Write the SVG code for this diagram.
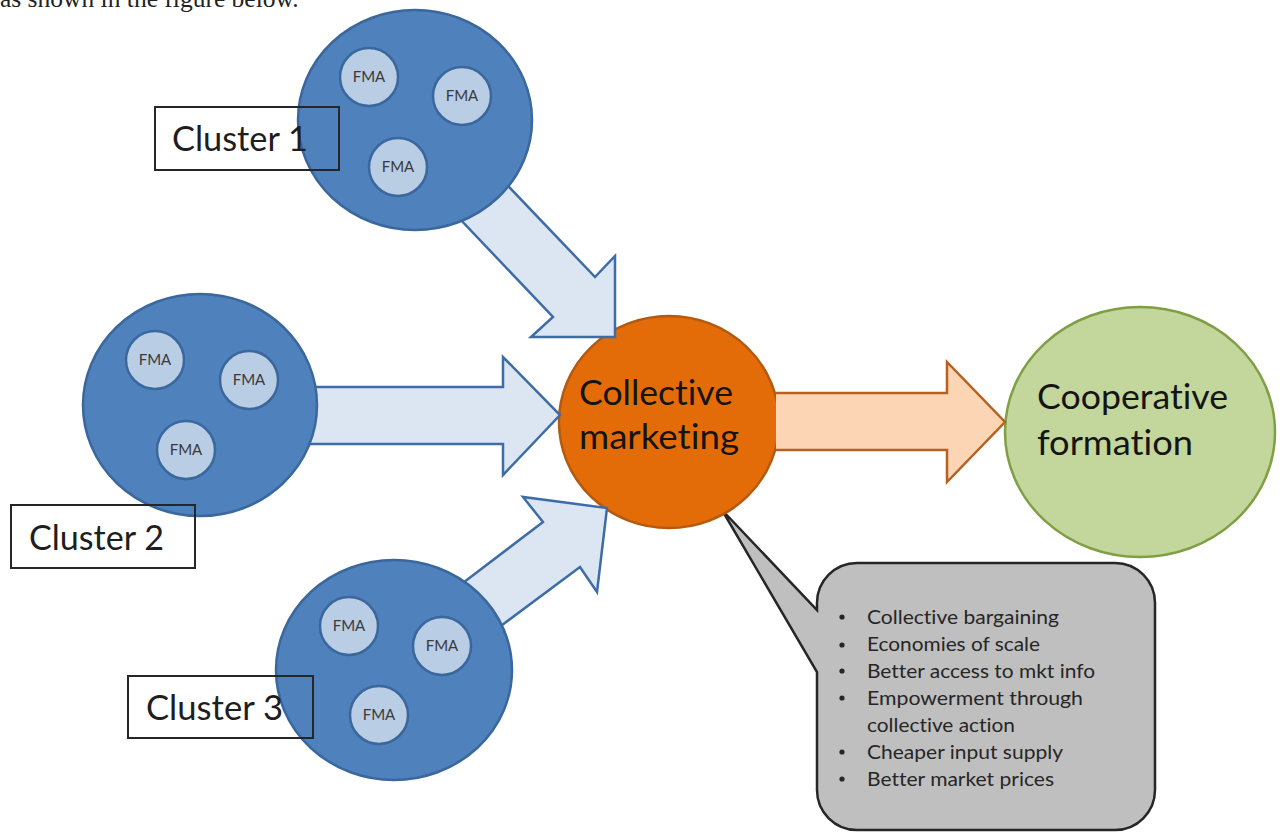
<svg xmlns="http://www.w3.org/2000/svg" width="1282" height="835" viewBox="0 0 1282 835">
<style>
text{font-variant-ligatures:none;font-feature-settings:"liga" 0,"dlig" 0}
.cl{fill:#4f81bd;stroke:#3a679c;stroke-width:2.5}
.fma{fill:#b9cde5;stroke:#3a679c;stroke-width:2.5}
.fmat{font-family:Lato,"Liberation Sans",sans-serif;font-size:15px;fill:#3a3a3a;text-anchor:middle}
.lbox{fill:none;stroke:#262626;stroke-width:2}
.lbl{font-family:Lato,"Liberation Sans",sans-serif;font-size:34px;fill:#1e1e1e}
.big{font-family:Lato,"Liberation Sans",sans-serif;font-size:35px;fill:#141414}
.arr{fill:#dce6f2;stroke:#3e6ca6;stroke-width:2.5;stroke-linejoin:miter}
.oarr{fill:#fcd5b5;stroke:#b8601f;stroke-width:2.5;stroke-linejoin:miter}
.li{font-family:Lato,"Liberation Sans",sans-serif;font-size:20px;fill:#262626}
.bul{fill:#262626}
</style>
<text x="0" y="7" font-family="'Liberation Serif',serif" font-size="25.5" fill="#222">as shown in the figure below.</text>

<g id="callout">
<path d="M857,563 H1115 A40,40 0 0 1 1155,603 V790 A40,40 0 0 1 1115,830 H857 A40,40 0 0 1 817,790 V672 L722,510 L817,610 V603 A40,40 0 0 1 857,563 Z" fill="#bfbfbf" stroke="#262626" stroke-width="2.5" stroke-linejoin="miter"/>
<circle class="bul" cx="842" cy="617" r="2.6"/>
<circle class="bul" cx="842" cy="645" r="2.6"/>
<circle class="bul" cx="842" cy="671" r="2.6"/>
<circle class="bul" cx="842" cy="698" r="2.6"/>
<circle class="bul" cx="842" cy="752" r="2.6"/>
<circle class="bul" cx="842" cy="779" r="2.6"/>
<text class="li" x="867" y="624" textLength="192" lengthAdjust="spacingAndGlyphs">Collective bargaining</text>
<text class="li" x="867" y="651" textLength="173" lengthAdjust="spacingAndGlyphs">Economies of scale</text>
<text class="li" x="867" y="678" textLength="228" lengthAdjust="spacingAndGlyphs">Better access to mkt info</text>
<text class="li" x="867" y="705" textLength="216" lengthAdjust="spacingAndGlyphs">Empowerment through</text>
<text class="li" x="867" y="732" textLength="148" lengthAdjust="spacingAndGlyphs">collective action</text>
<text class="li" x="867" y="759" textLength="196" lengthAdjust="spacingAndGlyphs">Cheaper input supply</text>
<text class="li" x="867" y="786" textLength="187" lengthAdjust="spacingAndGlyphs">Better market prices</text>
</g>

<g id="collective-marketing">
<ellipse cx="669" cy="422" rx="110" ry="106" fill="#e36c09" stroke="#b35a10" stroke-width="2.5"/>
<text class="big" x="579" y="405" textLength="154" lengthAdjust="spacingAndGlyphs">Collective</text>
<text class="big" x="579" y="449" textLength="160" lengthAdjust="spacingAndGlyphs">marketing</text>
</g>

<g id="cooperative-formation">
<ellipse cx="1140" cy="432" rx="135" ry="125" fill="#c3d69b" stroke="#7f9f45" stroke-width="2.5"/>
<text class="big" x="1037" y="409" textLength="191" lengthAdjust="spacingAndGlyphs">Cooperative</text>
<text class="big" x="1037" y="455" textLength="156" lengthAdjust="spacingAndGlyphs">formation</text>
</g>

<g id="connectors">
<path class="oarr" d="M776,393 H947 V362 L1005,422 L947,482 V450 H776"/>
<polygon class="arr" points="440,198 553,317 531,337 615,337 615,256 595,277 490,167"/>
<polygon class="arr" points="300,387 503,387 503,357 560,415 503,475 503,444 300,444"/>
<polygon class="arr" points="451,592 543,522 523,497 607,508 597,592 580,567 486,637"/>
</g>

<g id="cluster1">
<ellipse class="cl" cx="415" cy="120" rx="117" ry="110"/>
<circle class="fma" cx="369" cy="77" r="29"/>
<text class="fmat" x="369" y="82">FMA</text>
<circle class="fma" cx="462" cy="96" r="29"/>
<text class="fmat" x="462" y="101">FMA</text>
<circle class="fma" cx="398" cy="167" r="29"/>
<text class="fmat" x="398" y="172">FMA</text>
<rect class="lbox" x="155" y="107" width="184" height="63"/>
<text class="lbl" x="172" y="151" textLength="136" lengthAdjust="spacingAndGlyphs">Cluster 1</text>
</g>

<g id="cluster2">
<ellipse class="cl" cx="200" cy="405" rx="117" ry="111"/>
<circle class="fma" cx="155" cy="360" r="29"/>
<text class="fmat" x="155" y="365">FMA</text>
<circle class="fma" cx="249" cy="380" r="29"/>
<text class="fmat" x="249" y="385">FMA</text>
<circle class="fma" cx="186" cy="450" r="29"/>
<text class="fmat" x="186" y="455">FMA</text>
<rect class="lbox" x="11" y="505" width="184" height="63"/>
<text class="lbl" x="29" y="550" textLength="135" lengthAdjust="spacingAndGlyphs">Cluster 2</text>
</g>

<g id="cluster3">
<ellipse class="cl" cx="394" cy="670" rx="118" ry="110"/>
<circle class="fma" cx="349" cy="626" r="29"/>
<text class="fmat" x="349" y="631">FMA</text>
<circle class="fma" cx="442" cy="646" r="29"/>
<text class="fmat" x="442" y="651">FMA</text>
<circle class="fma" cx="379" cy="715" r="29"/>
<text class="fmat" x="379" y="720">FMA</text>
<rect class="lbox" x="128" y="676" width="185" height="62"/>
<text class="lbl" x="146" y="720" textLength="137" lengthAdjust="spacingAndGlyphs">Cluster 3</text>
</g>
</svg>
